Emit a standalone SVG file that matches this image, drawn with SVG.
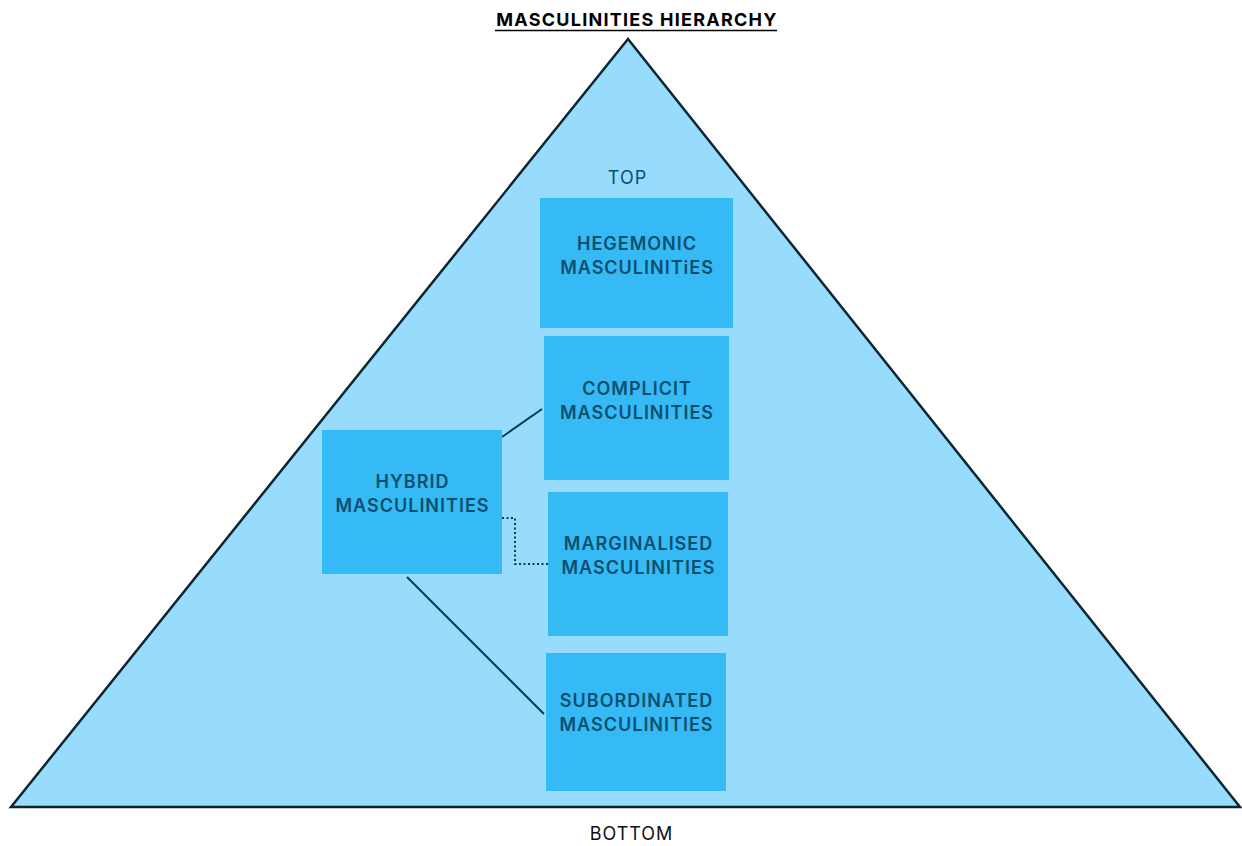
<svg xmlns="http://www.w3.org/2000/svg" width="1242" height="846" viewBox="0 0 1242 846">
  <style>
    .box { fill: #35baf6; }
    .lbl { font-family: Inter, "Liberation Sans", sans-serif; font-size: 18px; font-weight: 600; fill: #0b4f6e; text-anchor: middle; letter-spacing: 1px; }
    .plain { font-family: Inter, "Liberation Sans", sans-serif; font-size: 18px; text-anchor: middle; letter-spacing: 1px; }
    .link { stroke: #0a3a55; stroke-width: 2; fill: none; }
  </style>
  <rect width="1242" height="846" fill="#ffffff"/>

  <!-- title -->
  <g id="title">
    <text x="637" y="26" font-family="Inter, 'Liberation Sans', sans-serif" font-size="18" font-weight="700" fill="#000" text-anchor="middle" letter-spacing="1.25">MASCULINITIES HIERARCHY</text>
    <line x1="495" y1="30.5" x2="777" y2="30.5" stroke="#000" stroke-width="1.5"/>
  </g>

  <!-- pyramid -->
  <g id="pyramid">
    <polygon points="628,39 11,807 1240,807" fill="#97dcfd" stroke="#0b2633" stroke-width="2.5" stroke-linejoin="miter"/>
  </g>

  <text class="plain" x="627.5" y="184" fill="#0b4f6e">TOP</text>
  <text class="plain" x="631.5" y="840" fill="#111">BOTTOM</text>

  <!-- connectors -->
  <g id="connectors">
    <line class="link" x1="502" y1="437" x2="542" y2="409" stroke-width="1.6"/>
    <polyline class="link" points="502,518 515,518 515,564 548,564" stroke-dasharray="2,2.5"/>
    <line class="link" x1="407" y1="577" x2="544" y2="714" stroke-width="1.6"/>
  </g>

  <g id="hegemonic">
    <rect class="box" x="540" y="198" width="193" height="130"/>
    <text class="lbl" x="637" y="250">HEGEMONIC</text>
    <text class="lbl" x="637" y="274">MASCULINITiES</text>
  </g>

  <g id="complicit">
    <rect class="box" x="544" y="336" width="185" height="144"/>
    <text class="lbl" x="637" y="395">COMPLICIT</text>
    <text class="lbl" x="637" y="419">MASCULINITIES</text>
  </g>

  <g id="hybrid">
    <rect class="box" x="322" y="430" width="180" height="144"/>
    <text class="lbl" x="412.5" y="488">HYBRID</text>
    <text class="lbl" x="412.5" y="512">MASCULINITIES</text>
  </g>

  <g id="marginalised">
    <rect class="box" x="548" y="492" width="180" height="144"/>
    <text class="lbl" x="638.5" y="550">MARGINALISED</text>
    <text class="lbl" x="638.5" y="574">MASCULINITIES</text>
  </g>

  <g id="subordinated">
    <rect class="box" x="546" y="653" width="180" height="138"/>
    <text class="lbl" x="636.5" y="707">SUBORDINATED</text>
    <text class="lbl" x="636.5" y="731">MASCULINITIES</text>
  </g>
</svg>
